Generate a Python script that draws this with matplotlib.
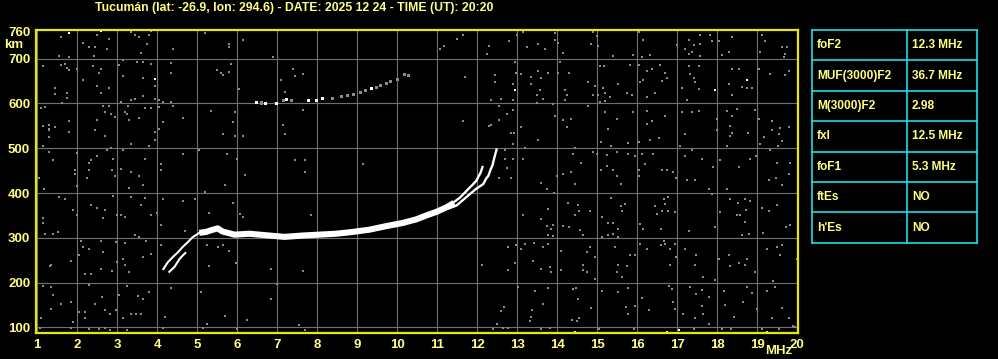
import matplotlib
matplotlib.use("Agg")
import matplotlib.pyplot as plt

W, H = 998, 359
title = "Tucumán (lat: -26.9, lon: 294.6) - DATE: 2025 12 24 - TIME (UT): 20:20"

x_ticks = list(range(1, 21))
y_ticks = [100, 200, 300, 400, 500, 600, 700, 760]

# --- ionogram traces (frequency MHz, virtual height km) ---
main_f = [5.05, 5.22, 5.35, 5.51, 5.63, 5.76, 5.93, 6.3, 6.8, 7.18, 7.63, 8.05, 8.47, 8.88,
          9.3, 9.72, 10.13, 10.47, 10.73, 10.98, 11.23, 11.42]
main_h = [311, 313, 317, 321, 314, 311, 307, 309, 305, 302, 305, 307, 309, 313,
          318, 326, 333, 341, 350, 358, 368, 378]

o_branch_f = [11.3, 11.42, 11.57, 11.69, 11.82, 11.9, 11.98, 12.03, 12.08, 12.13]
o_branch_h = [373, 380, 390, 401, 413, 420, 428, 437, 445, 458]

x_branch_f = [11.3, 11.48, 11.69, 11.86, 11.98, 12.15, 12.22, 12.28, 12.33, 12.38, 12.43, 12.48]
x_branch_h = [366, 372, 388, 401, 410, 420, 432, 439, 452, 462, 480, 497]

low_a_f = [4.15, 4.26, 4.4, 4.52, 4.63, 4.76, 4.88, 5.05]
low_a_h = [230, 245, 258, 268, 279, 290, 301, 311]
low_b_f = [4.3, 4.43, 4.55, 4.62, 4.7]
low_b_h = [224, 235, 252, 259, 266]

f2_f = [6.47, 6.6, 6.7, 6.98, 7.15, 7.23, 7.35, 7.78, 7.98, 8.13, 8.38, 8.6, 8.76, 8.9, 9.09, 9.2,
        9.36, 9.47, 9.59, 9.72, 9.84, 10.0, 10.19, 10.28]
f2_h = [602, 601, 600, 599, 606, 608, 607, 607, 607, 611, 611, 615, 618, 620, 625, 628,
        633, 636, 640, 644, 649, 654, 665, 663]
f2_white = [1, 0, 1, 1, 0, 1, 0, 1, 1, 1, 0, 0, 0, 0, 0, 0, 1, 0, 0, 0, 0, 0, 0, 0]

# --- background noise dots ---
noise_f = [1.78, 2.59, 1.59, 2.48, 2.78, 2.13, 2.3, 2.43, 2.73, 2.41, 1.53, 1.78, 3.34, 3.43, 3.53, 3.78,
           3.84, 3.73, 3.59, 4.38, 5.18, 5.78, 5.78, 6.13, 6.88, 1.13, 1.58, 1.68, 1.73, 1.8, 1.98, 2.38,
           2.55, 2.59, 3.03, 3.13, 3.49, 3.63, 3.84, 4.34, 4.34, 3.15, 3.63, 3.94, 2.14, 2.49, 2.58, 2.78,
           1.44, 1.43, 1.74, 1.74, 3.94, 3.93, 3.43, 3.34, 3.63, 3.08, 4.05, 4.13, 4.34, 1.63, 2.63, 2.78,
           3.26, 3.68, 3.84, 4.05, 4.38, 1.09, 1.18, 2.68, 2.85, 2.93, 3.2, 3.24, 3.28, 3.53, 2.48, 1.78,
           1.3, 1.13, 1.43, 1.3, 1.3, 1.28, 2.43, 2.68, 1.78, 4.13, 4.03, 4.63, 3.93, 3.95, 3.34, 3.78,
           1.13, 1.3, 1.38, 1.98, 2.3, 2.34, 2.48, 2.73, 2.84, 2.9, 3.15, 3.68, 4.09, 4.63, 5.03, 5.33,
           5.95, 5.88, 5.63, 5.95, 6.13, 5.73, 5.98, 7.13, 7.18, 7.18, 7.09, 7.38, 7.63, 7.43, 7.63, 5.49,
           5.59, 5.63, 5.78, 5.84, 6.03, 7.43, 7.68, 7.68, 9.13, 1.93, 1.95, 2.3, 2.23, 2.87, 3.09, 3.34,
           3.53, 2.93, 4.08, 1.03, 6.18,
           11.63, 11.48, 11.17, 11.07, 12.28, 12.24, 12.78, 12.98, 13.13, 13.23, 13.53, 13.68, 13.94,
           13.93, 14.03, 14.13, 14.88, 14.98, 14.83, 15.03, 15.38, 15.88, 16.03, 16.15, 16.13, 16.32,
           16.98, 17.28, 17.42, 17.58, 17.58, 17.57, 17.3, 17.38, 17.18, 17.83, 17.87, 18.03, 18.13,
           18.38, 18.28, 19.13, 19.18, 19.08, 19.63, 19.73, 19.68, 19.67, 11.68, 12.43, 12.43, 12.93,
           12.97, 12.88, 12.88, 12.58, 12.33, 13.08, 13.33, 13.53, 13.58, 13.78, 13.33, 13.57, 13.48,
           13.63, 13.48, 14.03, 14.07, 14.29, 14.19, 14.23, 14.19, 14.78, 14.93, 15.07, 15.17, 14.88,
           15.03, 15.13, 15.18, 15.32, 15.07, 15.18, 15.53, 15.73, 15.86, 15.82, 16.03, 16.23, 16.38,
           16.07, 16.15, 16.23, 16.43, 16.68, 16.73, 16.58, 16.63, 17.28, 17.33, 17.42, 17.44, 17.53,
           17.53, 17.23, 17.13, 18.38, 18.53, 18.28, 18.38, 18.63, 18.73, 18.88, 19.03, 19.33, 19.68,
           19.78, 11.63, 12.28, 12.33, 12.53, 12.73, 12.88, 12.53, 12.83, 12.92, 13.08, 12.88, 13.53,
           13.93, 13.88, 14.13, 14.33, 14.23, 14.78, 15.18, 15.48, 15.28, 15.08, 15.33, 15.88, 16.23,
           16.23, 16.38, 16.68, 16.32, 16.53, 15.78, 16.03, 17.13, 17.38, 17.53, 17.18, 17.07, 18.23,
           18.38, 18.48, 18.33, 18.38, 18.33, 18.25, 17.98, 17.98, 18.77, 18.93, 19.03, 19.38, 19.38,
           19.53, 19.63, 19.57, 19.78, 19.08, 19.16, 19.52, 19.33, 19.48, 19.82, 19.78, 19.47, 19.3,
           18.55, 18.82, 18.97, 18.07, 17.9, 17.63, 17.38, 17.18, 17.45, 17.23, 16.97, 16.63, 16.73,
           16.9, 16.4, 16.18, 16.13, 15.93, 15.78, 16.04, 16.03, 15.48, 15.23, 15.23, 15.38, 15.08,
           15.48, 14.88, 14.98, 14.58, 14.38, 14.43, 14.33, 14.13, 13.98, 13.13, 13.18, 12.68, 12.68,
           12.73, 12.53, 12.83, 12.88,
           1.17, 1.53, 1.7, 1.98, 2.34, 2.5, 2.68, 2.88, 3.28, 3.34, 3.63, 3.68, 3.59, 1.13, 1.13, 1.88,
           1.98, 2.63, 2.98, 3.09, 3.2, 3.84, 3.98, 4.09, 4.13, 4.63, 4.93, 5.18, 5.68, 5.88, 5.28, 6.07,
           6.13, 7.84, 1.19, 1.38, 1.51, 2.09, 2.13, 2.28, 2.58, 2.65, 2.97, 3.18, 3.43, 3.55, 3.72,
           3.84, 3.63, 4.1, 4.68, 5.25, 5.51, 5.63, 5.78, 5.97, 6.84, 7.63, 1.33, 1.32, 1.83, 2.03, 2.2,
           2.33, 2.6, 2.87, 2.98, 3.15, 3.18, 3.28, 3.65, 5.28, 1.13, 1.33, 1.38, 1.58, 1.33, 1.08, 1.85,
           2.03, 2.18, 2.2, 2.3, 2.45, 2.62, 2.68, 2.82, 2.97, 3.03, 3.23, 3.51, 3.63, 3.15, 3.35, 3.47,
           3.59, 3.78, 4.2, 4.34, 5.08, 5.23, 5.68, 6.23, 6.98, 6.85, 7.55, 7.7, 1.88, 1.83, 2.3, 2.53,
           2.68, 2.82, 3.23, 4.14, 5.13, 5.98, 1.07,
           13.58, 13.73, 13.92, 14.43, 15.58, 17.78, 17.88, 18.23, 19.63, 13.13, 13.58, 13.78, 13.88,
           13.73, 13.85, 13.78, 13.9, 14.28, 14.53, 14.43, 14.55, 14.57, 14.65, 14.13, 14.3, 14.82,
           15.33, 15.12, 15.28, 15.4, 15.53, 15.53, 15.38, 15.28, 15.12, 15.58, 15.68, 15.62, 16.08,
           16.15, 16.43, 16.5, 16.67, 16.68, 16.77, 16.63, 16.77, 16.95, 16.6, 17.28, 17.93, 18.33,
           18.52, 18.69, 18.83, 18.07, 18.48, 18.58, 18.72, 18.69, 18.63, 18.8, 19.12, 19.3, 19.5,
           19.15, 19.72, 19.82, 12.77, 12.97, 12.12, 12.77, 12.93, 13.08, 13.18, 13.42, 13.63, 13.78,
           13.4, 13.6, 13.82, 13.83, 14.08, 14.08, 14.63, 14.63, 14.75, 14.82, 14.75, 14.95, 14.93,
           15.43, 15.53, 15.48, 15.62, 15.73, 15.82, 15.95, 16.08, 16.23, 16.59, 16.67, 16.68, 16.82,
           16.95, 16.97, 16.83, 17.2, 17.47, 17.43, 17.65, 17.93, 18.03, 18.28, 18.33, 18.55, 18.7,
           18.75, 19.23, 19.48, 19.63, 19.57, 18.95, 19.98, 13.02, 13.44, 13.37, 13.65, 13.78, 14.38,
           14.47, 14.53, 14.85, 14.55, 14.48, 14.37, 15.12, 15.52, 15.78, 15.72, 15.78, 15.95, 16.12,
           16.28, 16.78, 16.88, 16.9, 16.95, 17.15, 17.33, 17.47, 17.63, 17.78, 17.62, 17.45, 17.65,
           17.8, 18.17, 18.18, 18.42, 18.73, 18.88, 18.65, 18.98, 19.25, 19.45, 19.4, 19.63, 19.78,
           19.9, 19.38, 12.67, 12.58, 12.48, 12.38, 12.63, 12.77, 13.35, 13.32, 13.6, 13.82, 15.05,
           15.92, 17.42, 18.12, 18.35, 19.13, 19.55, 19.93]
noise_h = [757, 762, 748, 753, 744, 735, 726, 726, 722, 707, 705, 704, 760, 754, 748, 753,
           762, 733, 713, 722, 757, 733, 726, 741, 704, 683, 685, 689, 680, 674, 678, 683,
           668, 678, 687, 698, 693, 693, 689, 690, 668, 661, 656, 655, 652, 638, 623, 634,
           634, 622, 623, 612, 638, 611, 611, 607, 616, 604, 607, 603, 603, 602, 594, 594,
           594, 589, 589, 591, 594, 589, 592, 580, 576, 570, 580, 576, 564, 567, 562, 561,
           553, 549, 547, 540, 525, 543, 540, 527, 536, 559, 544, 567, 536, 518, 510, 506,
           504, 491, 473, 489, 468, 473, 482, 497, 500, 477, 495, 477, 464, 486, 495, 583,
           581, 558, 531, 527, 527, 486, 477, 553, 531, 625, 652, 678, 665, 661, 585, 674,
           668, 663, 670, 689, 632, 473, 473, 446, 464, 451, 442, 451, 433, 451, 454, 446,
           437, 437, 451, 434, 440,
           754, 744, 728, 722, 728, 710, 739, 754, 760, 726, 733, 722, 757,
           741, 735, 713, 760, 750, 732, 728, 707, 708, 760, 742, 704, 708,
           730, 741, 730, 753, 733, 707, 710, 716, 722, 754, 739, 739, 708,
           748, 714, 753, 739, 714, 726, 726, 711, 704, 659, 663, 647, 692,
           669, 644, 607, 610, 607, 665, 659, 672, 656, 667, 644, 629, 620,
           611, 601, 668, 692, 669, 629, 620, 607, 647, 639, 683, 683, 620,
           620, 635, 624, 614, 604, 606, 643, 624, 618, 686, 685, 672, 678,
           647, 653, 614, 623, 668, 656, 686, 650, 683, 665, 656, 647, 683,
           633, 608, 634, 678, 678, 643, 620, 637, 634, 634, 678, 666, 663,
           672, 561, 550, 553, 594, 576, 585, 564, 535, 535, 547, 510, 518,
           571, 598, 563, 566, 547, 594, 582, 566, 544, 513, 504, 582, 583,
           555, 560, 573, 518, 522, 511, 514, 580, 580, 584, 531, 504, 584,
           571, 588, 549, 535, 527, 506, 565, 540, 535, 585, 566, 561, 540,
           531, 516, 546, 547, 510, 524, 506, 495, 468, 468, 442, 433, 429,
           459, 477, 482, 473, 458, 477, 495, 482, 429, 429, 433, 451, 451,
           446, 486, 464, 486, 482, 486, 451, 437, 491, 485, 460, 451, 451,
           437, 491, 486, 468, 486, 500, 446, 442, 439, 477, 500, 495, 477,
           455, 433, 433, 477,
           409, 391, 387, 415, 373, 366, 361, 394, 412, 391, 418, 388, 373, 344, 333, 361,
           350, 344, 350, 350, 347, 350, 356, 329, 387, 382, 387, 403, 418, 378, 356, 353,
           347, 351, 308, 308, 313, 293, 279, 276, 293, 268, 290, 289, 307, 302, 293,
           264, 256, 284, 316, 283, 279, 284, 270, 243, 231, 225, 239, 237, 249, 262, 218,
           218, 231, 225, 246, 252, 240, 224, 258, 236, 193, 190, 172, 153, 142, 121, 156,
           135, 134, 121, 194, 153, 167, 139, 130, 139, 173, 193, 169, 163, 120, 129, 129,
           129, 179, 124, 187, 178, 108, 126, 117, 197, 163, 105, 95, 111, 98, 96, 96,
           98, 95, 95, 99, 99, 96, 98,
           422, 410, 400, 421, 419, 409, 397, 409, 418, 351, 342, 364, 329,
           327, 320, 307, 305, 378, 373, 351, 359, 317, 307, 327, 324, 360,
           388, 347, 332, 332, 319, 301, 309, 307, 302, 370, 376, 360, 330,
           320, 370, 353, 387, 376, 391, 359, 359, 357, 319, 316, 324, 387,
           378, 387, 382, 357, 351, 351, 361, 336, 307, 308, 367, 360, 373,
           311, 324, 329, 279, 284, 240, 228, 244, 276, 287, 289, 279, 287,
           249, 231, 234, 224, 270, 227, 240, 228, 224, 279, 268, 258, 209,
           279, 240, 224, 213, 236, 261, 262, 286, 276, 283, 293, 287, 276,
           286, 256, 239, 276, 262, 239, 213, 206, 252, 262, 236, 244, 239,
           252, 276, 279, 284, 262, 223, 253, 190, 181, 138, 153, 187, 185,
           188, 163, 144, 121, 113, 116, 182, 179, 187, 145, 130, 148, 166,
           139, 193, 185, 157, 141, 129, 190, 175, 184, 167, 148, 121, 129,
           108, 181, 150, 124, 190, 176, 157, 142, 182, 190, 204, 144, 120,
           104, 120, 145, 136, 107, 96, 98, 98, 124, 114, 96, 99, 97,
           97, 97, 96, 96, 97, 97, 101]

white_f = [1.78, 2.59, 3.94, 12.93, 17.93, 18.73, 14.43, 16.73, 17.03, 19.23]
white_h = [757, 762, 655, 629, 629, 652, 89, 90, 95, 89]

params = ["foF2", "MUF(3000)F2", "M(3000)F2", "fxI", "foF1", "ftEs", "h'Es"]
values = ["12.3 MHz", "36.7 MHz", "2.98", "12.5 MHz", "5.3 MHz", "NO", "NO"]

YEL = "#ffff80"
BORDER = "#e8e800"
CYAN = "#18e0e8"
GRID = "#707070"
NOISE = "#8c8c8c"
FONT = ["Liberation Sans", "DejaVu Sans"]

fig = plt.figure(figsize=(W / 100, H / 100), dpi=100, facecolor="black")
ax = fig.add_axes([35.7 / W, 1 - 333 / H, (798.3 - 35.7) / W, (333 - 29.5) / H])
ax.set_facecolor("black")
ax.set_xlim(0.96, 20.025)
ax.set_ylim(87.3, 765.2)

for xv in x_ticks:
    ax.axvline(xv, color=GRID, lw=0.8, zorder=1)
for yv in y_ticks[:-1]:
    ax.axhline(yv, color=GRID, lw=0.8, zorder=1)

ax.scatter(noise_f, noise_h, s=2.8, marker="s", c=NOISE, linewidths=0, zorder=2)
ax.scatter(white_f, white_h, s=3.0, marker="s", c="white", linewidths=0, zorder=3)

f2_cols = ["white" if w else NOISE for w in f2_white]
ax.scatter(f2_f, f2_h, s=5, marker="s", c=f2_cols, linewidths=0, zorder=3)

ax.plot(main_f, main_h, color="white", lw=4.4, solid_capstyle="butt", zorder=4)
ax.plot(o_branch_f, o_branch_h, color="white", lw=1.7, zorder=4)
ax.plot(x_branch_f, x_branch_h, color="white", lw=1.7, zorder=4)
ax.plot(low_a_f, low_a_h, color="white", lw=1.5, zorder=4)
ax.plot(low_b_f, low_b_h, color="white", lw=1.5, zorder=4)

for sp in ax.spines.values():
    sp.set_color(BORDER)
    sp.set_linewidth(1.6)
    sp.set_zorder(6)

ax.set_xticks(x_ticks)
ax.set_xticklabels([str(v) for v in x_ticks])
ax.set_yticks(y_ticks)
ax.set_yticklabels([str(v) for v in y_ticks])
ax.tick_params(length=0, colors=YEL, labelsize=9.5, pad=4)
for lab in ax.get_xticklabels() + ax.get_yticklabels():
    lab.set_fontweight("bold")
    lab.set_family(FONT)
    lab.set_color(YEL)

fig.text(294.5 / W, 1 - 8 / H, title, color=YEL, fontsize=8.8, fontweight="bold",
         family=FONT, ha="center", va="center")
fig.text(14 / W, 1 - 45 / H, "km", color=YEL, fontsize=9.5, fontweight="bold",
         family=FONT, ha="center", va="center")
fig.text(779 / W, 1 - 351 / H, "MHz", color=YEL, fontsize=9.5, fontweight="bold",
         family=FONT, ha="center", va="center")

# table
tl, tr, tt, tb = 812.3, 977.3, 30.0, 242.7
tax = fig.add_axes([tl / W, 1 - tb / H, (tr - tl) / W, (tb - tt) / H])
tax.set_xlim(0, 1)
tax.set_ylim(len(params), 0)
tax.axis("off")
div = (907.3 - tl) / (tr - tl)
for i in range(len(params) + 1):
    tax.plot([0, 1], [i, i], color=CYAN, lw=1.2, clip_on=False)
for xv in [0, div, 1]:
    tax.plot([xv, xv], [0, len(params)], color=CYAN, lw=1.2, clip_on=False)
for i, (p, v) in enumerate(zip(params, values)):
    tax.text((817 - tl) / (tr - tl), i + 0.5, p, color=YEL, fontsize=8.6, fontweight="bold",
             family=FONT, ha="left", va="center")
    tax.text((912 - tl) / (tr - tl), i + 0.5, v, color=YEL, fontsize=8.6, fontweight="bold",
             family=FONT, ha="left", va="center")

fig.savefig("out.png", dpi=100, facecolor="black")
